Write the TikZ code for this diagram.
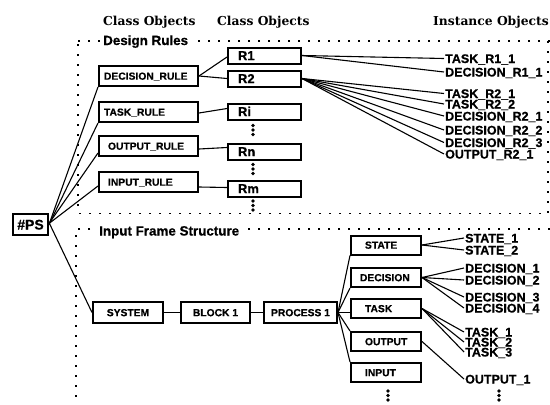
\documentclass[tikz,border=0pt]{standalone}
\usepackage{fontspec}
\newfontfamily\diagsans{Liberation Sans}[BoldFeatures={FakeBold=0.6}]
\newfontfamily\headserif{DejaVu Serif}
\usetikzlibrary{calc}
\begin{document}
\begin{tikzpicture}[x=1pt,y=-1pt,
  frame/.style={line width=1.4pt, dash pattern=on 2pt off 8pt},
  link/.style={line width=1.1pt},
  box/.style={draw, line width=2pt, inner ysep=0pt,
    font=\diagsans\bfseries\fontsize{10.3}{12}\selectfont,
    text height=7.4pt, text depth=0pt},
  rulebox/.style={box, inner xsep=5pt, text width=89pt, align=left, minimum height=20pt},
  rbox/.style={box, inner xsep=10pt, text width=53pt, align=left, minimum height=16pt,
    font=\diagsans\bfseries\fontsize{13}{15}\selectfont, text height=9.3pt},
  chainbox/.style={box, minimum height=21pt, inner xsep=0pt},
  lowbox/.style={box, inner xsep=14pt, text width=42pt, align=left, minimum height=19pt},
  inst/.style={anchor=west, inner xsep=1pt, inner ysep=0pt,
    font=\diagsans\bfseries\fontsize{12.5}{14}\selectfont, text height=9pt, text depth=0pt},
  header/.style={anchor=base west, inner sep=0pt, font=\headserif\bfseries\fontsize{12.3}{15}\selectfont},
  framelabel/.style={anchor=base west, fill=white, inner sep=2pt,
    font=\diagsans\bfseries\fontsize{13.4}{16}\selectfont},
  vdotsmark/.pic={\foreach \d in {-4.5,0,4.5} \fill (0,\d) circle[radius=1.8pt];}
]
\useasboundingbox (0,0) rectangle (550,405);

% column headings
\node[header] (h1) at (103,25) {Class Objects};
\node[header] (h2) at (217,25) {Class Objects};
\node[header] (h3) at (433,25) {Instance Objects};

% dotted frames
\draw[frame] (78,41) -- (550,41);
\draw[frame] (548,41) -- (548,213.5) -- (78,213.5) -- (78,41);
\draw[frame] (550,229) -- (76,229) -- (76,405);
\node[framelabel] (dr) at (101,45) {Design Rules};
\node[framelabel] (ifs) at (97,235.5) {Input Frame Structure};

% root
\node[box, minimum width=35pt, minimum height=21pt, inner xsep=0pt,
  font=\diagsans\bfseries\fontsize{14}{16}\selectfont, text height=10pt] (ps) at (30.5,224.5) {\#PS};

% rule classes
\node[rulebox] (drule) at (148.5,76) {DECISION\_RULE};
\node[rulebox] (trule) at (148.5,112) {TASK\_RULE};
\node[rulebox] (orule) at (148.5,146) {\hspace*{4pt}OUTPUT\_RULE};
\node[rulebox] (irule) at (148.5,182) {\hspace*{4pt}INPUT\_RULE};

% rule objects
\node[rbox] (r1) at (264.5,55.5) {R1};
\node[rbox] (r2) at (264.5,78.5) {R2};
\node[rbox] (ri) at (264.5,111.5) {Ri};
\node[rbox] (rn) at (264.5,151.5) {Rn};
\node[rbox] (rm) at (264.5,188.5) {Rm};
\pic at (253,130) {vdotsmark};
\pic at (253,169) {vdotsmark};
\pic at (253,205.5) {vdotsmark};

% rule instances
\node[inst] (tr11) at (444,58.5) {TASK\_R1\_1};
\node[inst] (dr11) at (444,72) {DECISION\_R1\_1};
\node[inst] (tr21) at (444,93.5) {TASK\_R2\_1};
\node[inst] (tr22) at (444,104) {TASK\_R2\_2};
\node[inst] (dr21) at (444,116) {DECISION\_R2\_1};
\node[inst] (dr22) at (444,130) {DECISION\_R2\_2};
\node[inst] (dr23) at (444,142.5) {DECISION\_R2\_3};
\node[inst] (or21) at (444,154) {OUTPUT\_R2\_1};

% frame structure
\node[chainbox, minimum width=70pt] (system) at (128,312.5) {SYSTEM};
\node[chainbox, minimum width=69pt] (block) at (215.5,312.5) {BLOCK 1};
\node[chainbox, minimum width=73pt] (process) at (300.5,312.5) {PROCESS 1};

\node[lowbox] (state) at (386,245) {STATE};
\node[lowbox, inner xsep=9pt, text width=52pt] (decision) at (386,277.5) {DECISION};
\node[lowbox] (task) at (386,308.5) {TASK};
\node[lowbox] (output) at (386,341.5) {OUTPUT};
\node[lowbox] (input) at (386,372.5) {INPUT};
\pic at (388,395.5) {vdotsmark};

% frame instances
\node[inst] (s1) at (464,238) {STATE\_1};
\node[inst] (s2) at (464,250) {STATE\_2};
\node[inst] (d1) at (464,268) {DECISION\_1};
\node[inst] (d2) at (464,280) {DECISION\_2};
\node[inst] (d3) at (464,297) {DECISION\_3};
\node[inst] (d4) at (464,308) {DECISION\_4};
\node[inst] (t1) at (464,332) {TASK\_1};
\node[inst] (t2) at (464,342) {TASK\_2};
\node[inst] (t3) at (464,352) {TASK\_3};
\node[inst] (o1) at (464,379) {OUTPUT\_1};
\pic at (499,395.5) {vdotsmark};

% connectors: root
\draw[link] (ps.east) -- (drule.south west);
\draw[link] (ps.east) -- (trule.south west);
\draw[link] ([yshift=1pt]ps.east) -- ([yshift=4pt]orule.south west);
\draw[link] ([yshift=1pt]ps.east) -- ([yshift=-4pt]irule.west);
\draw[link] ([yshift=2pt]ps.east) -- (system.west);

% connectors: rules
\draw[link] (drule.east) -- ([yshift=-1.5pt]r1.west);
\draw[link] (drule.east) -- (r2.west);
\draw[link] ([yshift=-1pt]trule.east) -- ([yshift=3pt]ri.west);
\draw[link] ([yshift=-3pt]orule.east) -- ([yshift=4pt]rn.west);
\draw[link] ([yshift=-5pt]irule.east) -- ([yshift=1pt]rm.west);

\foreach \t in {tr11,dr11} \draw[link] (r1.east) -- (\t.west);
\foreach \t in {tr21,tr22,dr21,dr22,dr23,or21} \draw[link] (r2.east) -- (\t.west);

% connectors: frame structure
\draw[link] (system) -- (block);
\draw[link] (block) -- (process);
\draw[link] (process.east) -- (state.south west);
\draw[link] (process.east) -- (decision.south west);
\draw[link] (process.east) -- ([yshift=-4pt]task.west);
\draw[link] (process.east) -- (output.north west);
\draw[link] (process.east) -- (input.north west);

\foreach \t in {s1,s2} \draw[link] (state.east) -- (\t.west);
\foreach \t in {d1,d2,d3,d4} \draw[link] (decision.east) -- (\t.west);
\foreach \t in {t1,t2,t3} \draw[link] (task.east) -- (\t.west);
\draw[link] (output.east) -- (o1.west);
\end{tikzpicture}
\end{document}
